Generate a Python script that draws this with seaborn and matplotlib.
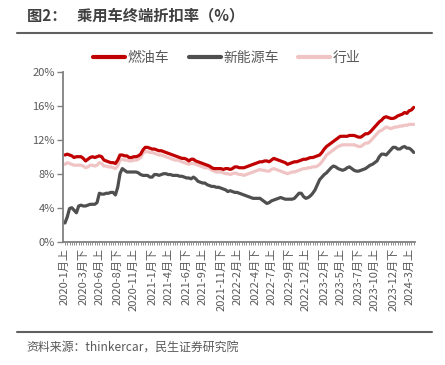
import numpy as np
import pandas as pd
import matplotlib
matplotlib.use("Agg")
import matplotlib.pyplot as plt
import seaborn as sns
from matplotlib.lines import Line2D

sns.set_style("white")
plt.rcParams['font.family'] = ['Noto Sans CJK SC', 'DejaVu Sans']
plt.rcParams['axes.unicode_minus'] = False

# 旬度: 2020-1月上 ... 2024-3月下
periods = []
for yr in range(2020, 2025):
    for m in range(1, 13):
        for p in ["上", "中", "下"]:
            periods.append(f"{yr}-{m}月{p}")
periods = periods[:periods.index("2024-3月下") + 1]

# 燃油车 (%)
ice = [10.2, 10.3, 10.2, 10.1, 9.9, 10.0, 10.0, 10.0, 9.8, 9.5,
       9.7, 9.9, 10.0, 9.9, 10.0, 10.1, 10.0, 9.6, 9.5, 9.4,
       9.3, 9.3, 9.2, 9.6, 10.2, 10.2, 10.1, 10.1, 9.9, 9.9,
       10.0, 10.0, 10.1, 10.3, 10.8, 11.1, 11.1, 11.0, 10.9, 10.9,
       10.8, 10.7, 10.7, 10.6, 10.5, 10.4, 10.3, 10.2, 10.1, 10.0,
       9.9, 9.8, 9.8, 9.7, 9.5, 9.7, 9.7, 9.5, 9.4, 9.3,
       9.2, 9.1, 9.0, 8.9, 8.7, 8.6, 8.6, 8.6, 8.6, 8.5,
       8.6, 8.6, 8.5, 8.6, 8.8, 8.8, 8.7, 8.7, 8.7, 8.8,
       8.9, 9.0, 9.1, 9.2, 9.3, 9.4, 9.4, 9.5, 9.5, 9.4,
       9.6, 9.8, 9.7, 9.6, 9.5, 9.4, 9.3, 9.1, 9.2, 9.3,
       9.4, 9.4, 9.5, 9.6, 9.7, 9.7, 9.8, 9.9, 9.9, 10.0,
       10.1, 10.2, 10.5, 10.9, 11.2, 11.4, 11.6, 11.8, 12.0, 12.2,
       12.4, 12.4, 12.4, 12.4, 12.5, 12.5, 12.5, 12.4, 12.3, 12.3,
       12.5, 12.7, 12.7, 12.9, 13.2, 13.5, 13.8, 14.1, 14.3, 14.6,
       14.7, 14.6, 14.5, 14.5, 14.6, 14.8, 14.9, 15.0, 15.2, 15.1,
       15.4, 15.5, 15.8]

# 新能源车 (%)
nev = [2.2, 2.9, 3.9, 4.0, 3.7, 3.4, 4.2, 4.3, 4.2, 4.2,
       4.3, 4.4, 4.4, 4.4, 4.6, 5.7, 5.6, 5.6, 5.7, 5.7,
       5.8, 5.8, 5.5, 6.4, 8.0, 8.6, 8.4, 8.2, 8.2, 8.2,
       8.2, 8.2, 8.1, 7.9, 7.8, 7.8, 7.8, 7.6, 7.6, 7.9,
       7.9, 7.8, 7.9, 8.0, 8.0, 7.9, 7.9, 7.8, 7.8, 7.8,
       7.7, 7.7, 7.6, 7.5, 7.5, 7.4, 7.6, 7.4, 7.1, 7.0,
       6.9, 6.9, 6.7, 6.6, 6.5, 6.5, 6.4, 6.4, 6.3, 6.2,
       6.1, 5.9, 6.0, 5.9, 5.8, 5.8, 5.7, 5.6, 5.5, 5.4,
       5.3, 5.2, 5.1, 5.1, 5.1, 5.1, 4.9, 4.7, 4.5, 4.6,
       4.8, 4.9, 5.0, 5.1, 5.2, 5.1, 5.0, 5.0, 5.0, 5.0,
       5.1, 5.4, 5.7, 5.7, 5.3, 5.1, 5.2, 5.4, 5.7, 6.1,
       6.7, 7.3, 7.6, 7.9, 8.1, 8.4, 8.7, 8.9, 8.8, 8.6,
       8.5, 8.4, 8.5, 8.7, 8.8, 8.6, 8.4, 8.3, 8.3, 8.4,
       8.5, 8.6, 8.8, 9.0, 9.1, 9.3, 9.5, 10.0, 10.3, 10.3,
       10.2, 10.5, 10.8, 11.1, 11.1, 10.9, 10.9, 11.1, 11.2, 11.0,
       11.0, 10.8, 10.5]

# 行业 (%)
total = [9.1, 9.3, 9.2, 9.1, 9.0, 9.0, 9.0, 9.0, 8.9, 8.7,
         8.8, 9.0, 9.0, 8.9, 9.0, 9.3, 9.2, 8.9, 8.9, 8.8,
         8.8, 8.7, 8.6, 8.9, 9.6, 9.7, 9.6, 9.6, 9.5, 9.5,
         9.6, 9.6, 9.7, 9.9, 10.4, 10.6, 10.6, 10.5, 10.5, 10.4,
         10.3, 10.2, 10.2, 10.1, 10.0, 9.9, 9.8, 9.7, 9.6, 9.6,
         9.5, 9.4, 9.3, 9.2, 9.1, 9.2, 9.2, 9.1, 9.0, 8.9,
         8.8, 8.7, 8.7, 8.6, 8.4, 8.3, 8.2, 8.2, 8.2, 8.1,
         8.0, 8.0, 7.9, 8.0, 8.1, 8.0, 7.9, 7.9, 7.8, 7.9,
         8.0, 8.1, 8.2, 8.3, 8.4, 8.5, 8.4, 8.4, 8.3, 8.3,
         8.5, 8.6, 8.5, 8.4, 8.3, 8.2, 8.1, 8.0, 8.1, 8.2,
         8.2, 8.3, 8.4, 8.5, 8.6, 8.6, 8.7, 8.7, 8.8, 8.8,
         8.9, 9.1, 9.4, 9.8, 10.2, 10.4, 10.6, 10.8, 11.0, 11.2,
         11.3, 11.4, 11.4, 11.4, 11.4, 11.4, 11.4, 11.3, 11.2, 11.2,
         11.4, 11.6, 11.6, 11.8, 12.1, 12.4, 12.7, 13.0, 13.1, 13.3,
         13.5, 13.4, 13.3, 13.4, 13.5, 13.5, 13.6, 13.6, 13.7, 13.7,
         13.8, 13.8, 13.8]

tick_labels = ["2020-1月上", "2020-3月下", "2020-6月上", "2020-8月下", "2020-11月上",
               "2021-1月下", "2021-4月上", "2021-6月下", "2021-9月上", "2021-11月下",
               "2022-2月上", "2022-4月下", "2022-7月上", "2022-9月下", "2022-12月上",
               "2023-2月下", "2023-5月上", "2023-7月下", "2023-10月上", "2023-12月下",
               "2024-3月上"]

series = {"燃油车": ice, "新能源车": nev, "行业": total}
colors = {"燃油车": "#C00000", "新能源车": "#4F4F4F", "行业": "#F0C4C4"}

df = pd.DataFrame({"idx": np.arange(len(periods))})
for k, v in series.items():
    df[k] = np.array(v) / 100

fig = plt.figure(figsize=(4.45, 3.65), dpi=100)
ax = fig.add_axes([0.1423, 0.3378, 0.79, 0.4658])

for k in ["行业", "燃油车", "新能源车"]:
    sns.lineplot(data=df, x="idx", y=k, ax=ax, color=colors[k], linewidth=2.3,
                 label=None, legend=False)

gray = "#595959"
ax.set_ylim(0, 0.20)
ax.set_yticks(np.arange(0, 0.201, 0.04))
ax.set_yticklabels([f"{int(round(t * 100))}%" for t in np.arange(0, 0.201, 0.04)])
ax.set_xlim(-0.7, len(periods) - 0.5)
tick_pos = [periods.index(t) for t in tick_labels]
ax.set_xticks(tick_pos)
ax.set_xticklabels(tick_labels, rotation=90)
ax.set_xticks(np.arange(len(periods)), minor=True)
ax.set_xlabel("")
ax.set_ylabel("")

for s in ["top", "right"]:
    ax.spines[s].set_visible(False)
for s in ["left", "bottom"]:
    ax.spines[s].set_color("#808080")
    ax.spines[s].set_linewidth(1.3)
ax.tick_params(axis="y", which="major", direction="out", length=4, width=1,
               color="#808080", labelsize=8, labelcolor=gray, left=True, pad=2)
ax.tick_params(axis="x", which="both", direction="out", length=2.5, width=0.6,
               color="#808080", labelsize=8, labelcolor=gray, bottom=True, pad=2)

handles = [Line2D([], [], color=colors[k], linewidth=3) for k in series]
fig.legend(handles, list(series.keys()), loc="center", bbox_to_anchor=(0.51, 0.842),
           ncol=3, frameon=False, fontsize=10, handlelength=2.3, handletextpad=0.2,
           columnspacing=1.4, labelcolor=gray)

# 标题与来源
fig.text(0.06, 0.958, "图2：   乘用车终端折扣率（%）", fontsize=11, fontweight="bold",
         color="#404040", va="center", ha="left")
fig.add_artist(Line2D([0.038, 0.971], [0.909, 0.909], color="#606060", linewidth=1.5))
fig.add_artist(Line2D([0.038, 0.971], [0.09, 0.09], color="#606060", linewidth=1.5))
fig.text(0.06, 0.049, "资料来源：thinkercar，民生证券研究院", fontsize=8.6,
         color=gray, va="center", ha="left")

fig.savefig("out.png", dpi=100)
